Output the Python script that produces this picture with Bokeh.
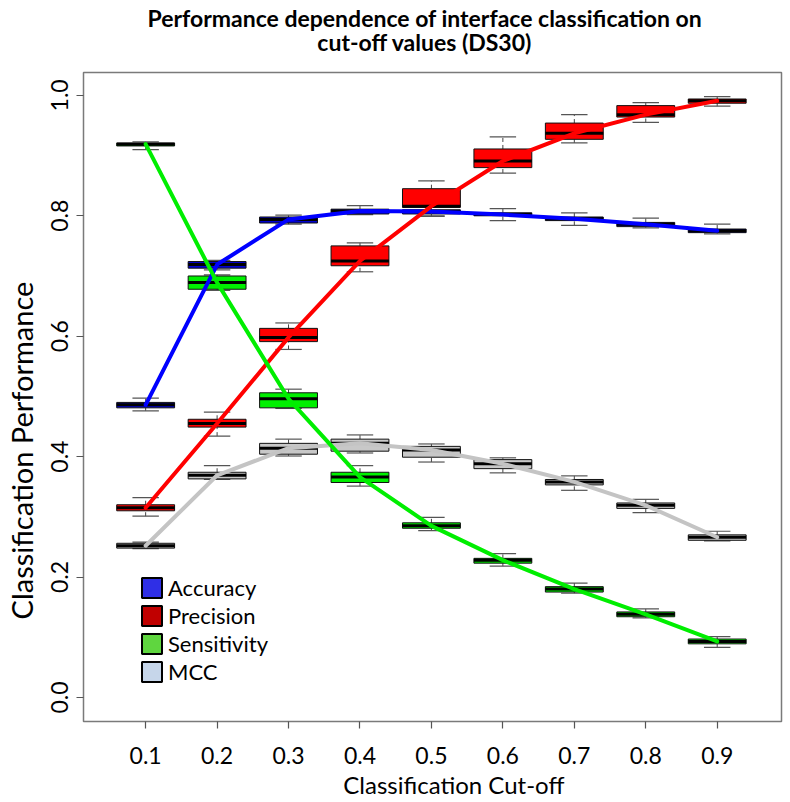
from bokeh.plotting import figure
from bokeh.models import (Range1d, FixedTicker, Legend, LegendItem, ColumnDataSource,
                          LinearAxis)
from bokeh.embed import file_html
from bokeh.resources import INLINE

# ---------------- data ----------------
cutoffs = [0.1, 0.2, 0.3, 0.4, 0.5, 0.6, 0.7, 0.8, 0.9]
cutoff_labels = ["0.1", "0.2", "0.3", "0.4", "0.5", "0.6", "0.7", "0.8", "0.9"]
y_ticks = [0.0, 0.2, 0.4, 0.6, 0.8, 1.0]
y_tick_labels = ["0.0", "0.2", "0.4", "0.6", "0.8", "1.0"]

acc_med = [0.486, 0.719, 0.794, 0.808, 0.807, 0.802, 0.795, 0.786, 0.775]
acc_q1 = [0.481, 0.713, 0.788, 0.803, 0.803, 0.800, 0.792, 0.782, 0.772]
acc_q3 = [0.490, 0.724, 0.798, 0.811, 0.810, 0.805, 0.798, 0.789, 0.778]
acc_lo = [0.476, 0.710, 0.786, 0.802, 0.799, 0.792, 0.784, 0.780, 0.770]
acc_hi = [0.497, 0.726, 0.801, 0.817, 0.815, 0.812, 0.805, 0.796, 0.786]

pre_med = [0.315, 0.455, 0.598, 0.725, 0.816, 0.891, 0.937, 0.968, 0.991]
pre_q1 = [0.310, 0.449, 0.591, 0.717, 0.814, 0.880, 0.927, 0.964, 0.987]
pre_q3 = [0.320, 0.462, 0.613, 0.750, 0.845, 0.911, 0.954, 0.983, 0.994]
pre_lo = [0.301, 0.434, 0.578, 0.707, 0.800, 0.871, 0.921, 0.955, 0.982]
pre_hi = [0.332, 0.474, 0.622, 0.755, 0.858, 0.931, 0.968, 0.988, 0.998]

sen_med = [0.919, 0.689, 0.496, 0.366, 0.285, 0.228, 0.180, 0.138, 0.093]
sen_q1 = [0.916, 0.678, 0.481, 0.357, 0.281, 0.223, 0.175, 0.134, 0.089]
sen_q3 = [0.921, 0.700, 0.506, 0.374, 0.290, 0.231, 0.184, 0.142, 0.097]
sen_lo = [0.910, 0.676, 0.480, 0.351, 0.277, 0.218, 0.173, 0.132, 0.083]
sen_hi = [0.923, 0.702, 0.512, 0.385, 0.299, 0.239, 0.190, 0.147, 0.101]

mcc_med = [0.252, 0.369, 0.414, 0.422, 0.411, 0.388, 0.358, 0.319, 0.266]
mcc_q1 = [0.248, 0.363, 0.404, 0.409, 0.399, 0.380, 0.353, 0.314, 0.261]
mcc_q3 = [0.256, 0.374, 0.422, 0.429, 0.417, 0.395, 0.362, 0.323, 0.270]
mcc_lo = [0.247, 0.362, 0.401, 0.406, 0.391, 0.373, 0.344, 0.307, 0.260]
mcc_hi = [0.258, 0.385, 0.429, 0.436, 0.421, 0.398, 0.368, 0.329, 0.276]

metric_names = ["Accuracy", "Precision", "Sensitivity", "MCC"]
box_colors = ["#0000D0", "#FF0000", "#00F000", "#C8C8C8"]
line_colors = ["#0000FF", "#FF0000", "#00EE00", "#C4C4C4"]
legend_colors = ["#2F2FE6", "#C00000", "#5FD63F", "#C6D6EA"]

title_lines = ["Performance dependence of interface classification on", "cut-off values (DS30)"]
x_title = "Classification Cut-off"
y_title = "Classification Performance"

series = [
    (acc_med, acc_q1, acc_q3, acc_lo, acc_hi),
    (pre_med, pre_q1, pre_q3, pre_lo, pre_hi),
    (sen_med, sen_q1, sen_q3, sen_lo, sen_hi),
    (mcc_med, mcc_q1, mcc_q3, mcc_lo, mcc_hi),
]

# ---------------- figure ----------------
FONT = "Lato"
box_w = 0.081
cap_w = 0.037
NAN = float("nan")

p = figure(width=790, height=802,
           x_range=Range1d(0.013, 0.99), y_range=Range1d(-0.04, 1.038),
           output_backend="svg", toolbar_location=None,
           min_border_left=83, min_border_right=9, min_border_top=72, min_border_bottom=81)
p.xgrid.visible = False
p.ygrid.visible = False
p.outline_line_color = "#7a7a7a"
p.outline_line_width = 1.5
p.background_fill_color = "white"
p.border_fill_color = "white"

sources = []
for (med, q1, q3, lo, hi) in series:
    src = ColumnDataSource(dict(
        x=cutoffs, med=med, q1=q1, q3=q3, lo=lo, hi=hi,
        x0=[c - box_w / 2 for c in cutoffs], x1=[c + box_w / 2 for c in cutoffs],
        c0=[c - cap_w / 2 for c in cutoffs], c1=[c + cap_w / 2 for c in cutoffs],
    ))
    sources.append(src)

# whiskers + caps + boxes
for src, col in zip(sources, box_colors):
    p.segment(x0="x", y0="q3", x1="x", y1="hi", source=src, line_color="#444444",
              line_width=1, line_dash="4 3")
    p.segment(x0="x", y0="lo", x1="x", y1="q1", source=src, line_color="#444444",
              line_width=1, line_dash="4 3")
    p.segment(x0="c0", y0="hi", x1="c1", y1="hi", source=src, line_color="#555555", line_width=1.2)
    p.segment(x0="c0", y0="lo", x1="c1", y1="lo", source=src, line_color="#555555", line_width=1.2)
    p.quad(left="x0", right="x1", bottom="q1", top="q3", source=src,
           fill_color=col, line_color="#111111", line_width=1)
    p.segment(x0="x0", y0="med", x1="x1", y1="med", source=src, line_color="black", line_width=3)

# connecting lines (drawn on top)
for idx in [3, 0, 1, 2]:
    p.line(x="x", y="med", source=sources[idx], line_color=line_colors[idx],
           line_width=4, line_cap="round", line_join="round")

# ---------------- axes ----------------
p.xaxis.ticker = FixedTicker(ticks=cutoffs)
p.xaxis.major_label_overrides = {c: l for c, l in zip(cutoffs, cutoff_labels)}
p.yaxis.ticker = FixedTicker(ticks=y_ticks)
p.yaxis.major_label_overrides = {t: l for t, l in zip(y_ticks, y_tick_labels)}
p.yaxis.major_label_orientation = "parallel"
for ax in (p.xaxis[0], p.yaxis[0]):
    ax.axis_line_color = None
    ax.major_tick_out = 7
    ax.major_tick_in = 0
    ax.major_tick_line_color = "#555555"
    ax.major_tick_line_width = 1.2
    ax.minor_tick_line_color = None
    ax.major_label_text_font = FONT
    ax.major_label_text_font_size = "23px"
    ax.major_label_text_color = "black"
p.xaxis.major_label_standoff = 18
p.yaxis.major_label_standoff = 8


def text_axis(pos, text, size, standoff, bold=False, orient="horizontal"):
    """An axis used only to place one text at a data position outside the frame."""
    return LinearAxis(ticker=FixedTicker(ticks=[pos]), major_label_overrides={pos: text},
                      axis_line_color=None, major_tick_line_color=None,
                      minor_tick_line_color=None, major_tick_out=0, major_tick_in=0,
                      major_label_standoff=standoff, major_label_text_font=FONT,
                      major_label_text_font_size=size,
                      major_label_text_font_style="bold" if bold else "normal",
                      major_label_text_color="black", major_label_orientation=orient)


# axis titles
p.add_layout(text_axis(0.5314, x_title, "24px", 3), "below")
p.add_layout(text_axis(0.41, y_title, "29px", 9, orient="parallel"), "left")
# two-line chart title (nearest line first)
p.add_layout(text_axis(0.4908, title_lines[1], "23px", 17, bold=True), "above")
p.add_layout(text_axis(0.4908, title_lines[0], "23px", -7, bold=True), "above")

# ---------------- legend ----------------
items = []
for name, col in zip(metric_names, legend_colors):
    r = p.quad(left=[NAN], right=[NAN], top=[NAN], bottom=[NAN], fill_color=col,
               line_color="black", line_width=2)
    items.append(LegendItem(label=name, renderers=[r]))
leg = Legend(items=items, location=(56, 36), glyph_width=25, glyph_height=25,
             label_text_font=FONT, label_text_font_size="22px", label_standoff=4,
             label_text_color="black",
             spacing=1, padding=0, margin=0, border_line_color=None, background_fill_alpha=0)
p.add_layout(leg, "center")

open("out.html", "w").write(file_html(p, INLINE))
